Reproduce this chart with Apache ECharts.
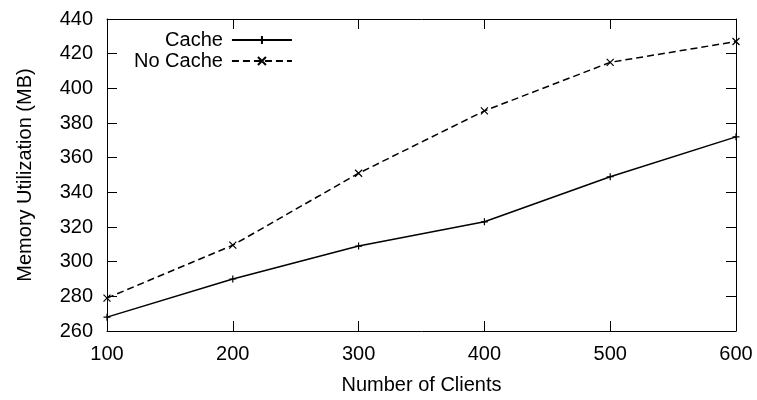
<!DOCTYPE html>
<html>
<head>
<meta charset="utf-8">
<script src="https://cdn.jsdelivr.net/npm/echarts@6/dist/echarts.min.js"></script>
<style>
  html, body { margin: 0; padding: 0; background: #fff; }
  #chart { width: 757px; height: 400px; }
</style>
</head>
<body>
<div id="chart"></div>
<script>
// Number of concurrent clients (x) and memory use in MB (y)
const clients = [100, 200, 300, 400, 500, 600];
const cacheMB = [268, 290, 309, 323, 349, 372];
const noCacheMB = [279, 309.5, 351, 387, 415, 427];
const seriesNames = ['Cache', 'No Cache'];

const FONT = 'Liberation Sans, Arial, Helvetica, sans-serif';
const FONT_SIZE = 20;
const INK = '#000';

const pairs = (ys) => clients.map((x, i) => [x, ys[i]]);

// stroked marker shapes: "+" and "x"
const plusSymbol = 'path://M0,5L10,5M5,0L5,10';
const crossSymbol = 'path://M0,0L10,10M10,0L0,10';

// mirrored axes on the top and right: line and inward ticks only
const sideAxis = {
  axisLine: { show: true, lineStyle: { color: INK, width: 1 } },
  axisTick: { show: true, inside: true, length: 10, lineStyle: { color: INK, width: 1 } },
  splitLine: { show: false },
  axisLabel: { show: false }
};

const chart = echarts.init(document.getElementById('chart'), null, { renderer: 'canvas' });
chart.setOption({
  backgroundColor: '#fff',
  animation: false,
  grid: { left: 107, right: 21, top: 19, bottom: 67, containLabel: false },
  legend: {
    data: seriesNames,
    orient: 'vertical',
    left: 129,
    top: 25,
    align: 'right',
    itemWidth: 60,
    itemHeight: 10,
    itemGap: 1,
    textStyle: { fontFamily: FONT, fontSize: FONT_SIZE, lineHeight: 20, color: INK, padding: [0, 4, 0, 0] }
  },
  xAxis: [
    {
      type: 'value', min: 100, max: 600, interval: 100,
      name: 'Number of Clients', nameLocation: 'middle', nameGap: 44,
      nameTextStyle: { fontFamily: FONT, fontSize: FONT_SIZE, color: INK },
      axisLine: { show: true, onZero: false, lineStyle: { color: INK, width: 1 } },
      axisTick: { show: true, inside: true, length: 10, lineStyle: { color: INK, width: 1 } },
      axisLabel: { fontFamily: FONT, fontSize: FONT_SIZE, color: INK, margin: 13 },
      splitLine: { show: false }
    },
    Object.assign({ type: 'value', min: 100, max: 600, interval: 100, position: 'top' }, sideAxis)
  ],
  yAxis: [
    {
      type: 'value', min: 260, max: 440, interval: 20,
      name: 'Memory Utilization (MB)', nameLocation: 'middle', nameGap: 72, nameRotate: 90,
      nameTextStyle: { fontFamily: FONT, fontSize: FONT_SIZE, color: INK },
      axisLine: { show: true, onZero: false, lineStyle: { color: INK, width: 1 } },
      axisTick: { show: true, inside: true, length: 10, lineStyle: { color: INK, width: 1 } },
      axisLabel: { fontFamily: FONT, fontSize: FONT_SIZE, color: INK, margin: 14 },
      splitLine: { show: false }
    },
    Object.assign({ type: 'value', min: 260, max: 440, interval: 20, position: 'right' }, sideAxis)
  ],
  series: [
    {
      name: seriesNames[0], type: 'line', data: pairs(cacheMB),
      symbol: plusSymbol, symbolSize: 7, showAllSymbol: true,
      lineStyle: { color: INK, width: 1.5, type: 'solid' },
      itemStyle: { color: 'none', borderColor: INK, borderWidth: 1.2 },
      emphasis: { disabled: true }
    },
    {
      name: seriesNames[1], type: 'line', data: pairs(noCacheMB),
      symbol: crossSymbol, symbolSize: 7, showAllSymbol: true,
      lineStyle: { color: INK, width: 1.5, type: [7, 4] },
      itemStyle: { color: 'none', borderColor: INK, borderWidth: 1.2 },
      emphasis: { disabled: true }
    }
  ]
});
</script>
</body>
</html>
